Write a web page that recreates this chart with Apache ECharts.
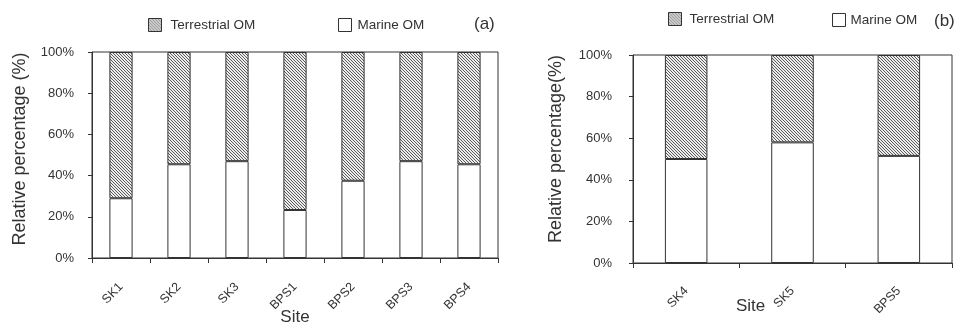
<!DOCTYPE html>
<html>
<head>
<meta charset="utf-8">
<script src="https://cdn.jsdelivr.net/npm/echarts@6/dist/echarts.min.js"></script>
<style>
html,body{margin:0;padding:0;background:#fff;}
#chart{width:957px;height:332px;}
</style>
</head>
<body>
<div id="chart"></div>
<script>
// ---- data ----
const sitesA = ['SK1', 'SK2', 'SK3', 'BPS1', 'BPS2', 'BPS3', 'BPS4'];
const marineA = [29, 45.5, 47, 23.3, 37.5, 47, 45.5];
const terrestrialA = [71, 54.5, 53, 76.7, 62.5, 53, 54.5];

const sitesB = ['SK4', 'SK5', 'BPS5'];
const marineB = [50, 58, 51.5];
const terrestrialB = [50, 42, 48.5];

const yTicks = [0, 20, 40, 60, 80, 100];

// ---- hatch pattern ----
function hatch() {
  const c = document.createElement('canvas');
  c.width = 3; c.height = 3;
  const ctx = c.getContext('2d');
  ctx.fillStyle = '#ededed';
  ctx.fillRect(0, 0, 3, 3);
  ctx.fillStyle = '#5a5a5a';
  for (let i = 0; i < 3; i++) ctx.fillRect(i, i, 1, 1);
  return c;
}
const hatchColor = { image: hatch(), repeat: 'repeat' };

const FONT = 'Liberation Sans, Arial, sans-serif';
const TXT = '#333';
const LINE = '#333';

const chart = echarts.init(document.getElementById('chart'), null, { renderer: 'canvas' });

function yAxis(gridIndex, name, gap, margin, shift) {
  return {
    type: 'value', gridIndex, min: yTicks[0], max: yTicks[yTicks.length - 1], interval: 20,
    name, nameLocation: 'middle', nameGap: gap, nameRotate: 90, nameMoveOverlap: false,
    nameTextStyle: { fontFamily: FONT, fontSize: 18, color: TXT, padding: [0, 0, 0, shift] },
    axisLine: { show: true, lineStyle: { color: LINE, width: 1 } },
    axisTick: { show: true, inside: false, length: 4, lineStyle: { color: LINE } },
    axisLabel: { formatter: '{value}%', fontFamily: FONT, fontSize: 13, color: TXT, margin },
    splitLine: { show: false }
  };
}
function xAxis(gridIndex, data, margin, name) {
  return {
    type: 'category', gridIndex, data,
    name: name, nameLocation: 'middle', nameGap: 51, nameMoveOverlap: false,
    nameTextStyle: { fontFamily: FONT, fontSize: 17, color: TXT },
    axisLine: { show: true, lineStyle: { color: LINE, width: 1 } },
    axisTick: { show: true, inside: false, length: 5, alignWithLabel: false, interval: 0, lineStyle: { color: LINE } },
    axisLabel: { rotate: 45, interval: 0, fontFamily: FONT, fontSize: 12.5, color: TXT, margin },
    splitLine: { show: false }
  };
}

const marineStyle = { color: '#fff', borderColor: LINE, borderWidth: 1 };
const terrStyle = { color: hatchColor, borderColor: LINE, borderWidth: 1 };

function legend(name, left, top, style, padLeft) {
  return {
    data: [{ name, icon: 'rect', itemStyle: style }],
    left, top, padding: 0, itemWidth: 13, itemHeight: 13, selectedMode: false,
    textStyle: { fontFamily: FONT, fontSize: 13.5, color: TXT, padding: [0, 0, 0, padLeft] }
  };
}

const option = {
  backgroundColor: '#fff',
  animation: false,
  legend: [
    legend('Terrestrial OM', 148, 18, terrStyle, 4),
    legend('Marine OM', 338, 18, marineStyle, 1),
    legend('Terrestrial OM', 668, 12, terrStyle, 3),
    legend('Marine OM', 832, 13, marineStyle, 0)
  ],
  grid: [
    { left: 92, top: 52, width: 406, height: 206, show: true, borderColor: LINE, borderWidth: 1, backgroundColor: 'transparent', containLabel: false, outerBoundsMode: 'none' },
    { left: 633, top: 55, width: 319, height: 208, show: true, borderColor: LINE, borderWidth: 1, backgroundColor: 'transparent', containLabel: false, outerBoundsMode: 'none' }
  ],
  xAxis: [xAxis(0, sitesA, 27, 'Site'), xAxis(1, sitesB, 26, '')],
  yAxis: [yAxis(0, 'Relative percentage (%)', 63, 18, 12), yAxis(1, 'Relative percentage(%)', 68, 21, 20)],
  series: [
    { name: 'Marine OM', type: 'bar', xAxisIndex: 0, yAxisIndex: 0, stack: 'a', barWidth: '40%', data: marineA, itemStyle: marineStyle },
    { name: 'Terrestrial OM', type: 'bar', xAxisIndex: 0, yAxisIndex: 0, stack: 'a', barWidth: '40%', data: terrestrialA, itemStyle: terrStyle },
    { name: 'Marine OM', type: 'bar', xAxisIndex: 1, yAxisIndex: 1, stack: 'b', barWidth: '40%', data: marineB, itemStyle: marineStyle },
    { name: 'Terrestrial OM', type: 'bar', xAxisIndex: 1, yAxisIndex: 1, stack: 'b', barWidth: '40%', data: terrestrialB, itemStyle: terrStyle }
  ],
  graphic: [
    { type: 'text', left: 474, top: 16, style: { text: '(a)', font: '17px ' + FONT, fill: TXT } },
    { type: 'text', left: 934, top: 13, style: { text: '(b)', font: '17px ' + FONT, fill: TXT } },
    { type: 'text', left: 736, top: 298, style: { text: 'Site', font: '17px ' + FONT, fill: TXT } }
  ]
};
chart.setOption(option);
</script>
</body>
</html>
